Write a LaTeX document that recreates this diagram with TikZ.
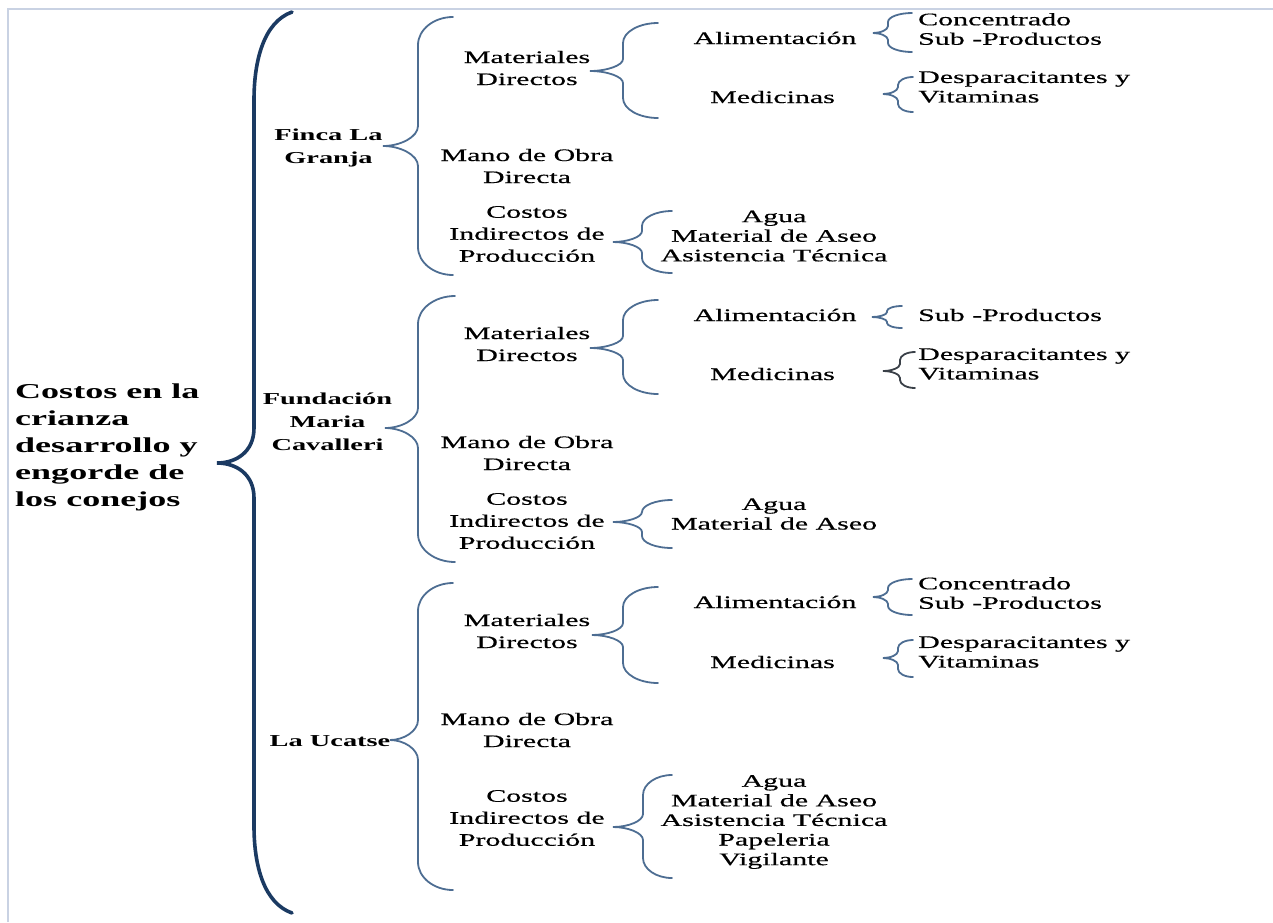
\documentclass[tikz,border=0pt]{standalone}
\usepackage{fontspec}
\setmainfont{Liberation Serif}[FakeStretch=1.7]
\newfontfamily\rfont{Liberation Serif}[FakeStretch=1.7,FakeBold=0.5]
\definecolor{bigb}{HTML}{1B3A62}
\definecolor{smb}{HTML}{4D6D92}
\definecolor{smg}{HTML}{3A4048}
\definecolor{framec}{HTML}{C9D2E3}
% style, xe, yt, yb, xv, xt, ym, rend, rtip
\newcommand\mybrc[9]{\draw[#1] (#2,#3) .. controls ({#2-0.55*(#2-#5)},#3) and (#5,{#3+0.45*#8}) .. (#5,{#3+#8})
 -- (#5,{#7-#9}) .. controls (#5,{#7-0.45*#9}) and ({#6+0.5*(#5-#6)},#7) .. (#6,#7)
 .. controls ({#6+0.5*(#5-#6)},#7) and (#5,{#7+0.45*#9}) .. (#5,{#7+#9})
 -- (#5,{#4-#8}) .. controls (#5,{#4-0.45*#8}) and ({#2-0.55*(#2-#5)},#4) .. (#2,#4);}
\tikzset{
 bigbrace/.style={draw=bigb, line width=3.6pt, line cap=round},
 smbrace/.style={draw=smb, line width=1.8pt, line cap=round},
 ttl/.style={font=\bfseries\fontsize{21.2}{27}\selectfont, align=left, inner sep=0pt},
 lvone/.style={font=\bfseries\fontsize{16.7}{23}\selectfont, align=center, inner sep=0pt},
 lvthree/.style={font=\rfont\fontsize{17.6}{22}\selectfont, align=center, inner sep=0pt},
 lvfour/.style={font=\rfont\fontsize{17.6}{20}\selectfont, inner sep=0pt, anchor=base},
 itm/.style={font=\rfont\fontsize{17.6}{19.5}\selectfont, align=left, inner sep=0pt},
 itc/.style={font=\rfont\fontsize{17.6}{19.6}\selectfont, align=center, inner sep=0pt},
}
\begin{document}
\begin{tikzpicture}[x=1pt,y=-1pt]
\useasboundingbox (0,0) rectangle (1273,922);
% frame
\draw[framec, line width=1.5pt] (8,922) -- (8,9) -- (1273,9);
% title
\node[ttl, anchor=west] (title) at (15,447) {Costos en la\\crianza\\desarrollo y\\engorde de\\los conejos};
% big brace
\draw[bigbrace] (292,12) .. controls (264,22) and (254,60) .. (254,100) -- (254,428)
  .. controls (254,452) and (236,463) .. (217,463)
  .. controls (236,463) and (254,474) .. (254,498) -- (254,826)
  .. controls (254,866) and (264,903) .. (292,913);
% level 1
\node[lvone] (finca) at (328.5,148) {Finca La\\Granja};
\node[lvone] (fund) at (327.5,422) {Fundación\\Maria\\Cavalleri};
\node[lvone] (ucat) at (330,741) {La Ucatse};
\mybrc{smbrace}{453}{17}{275}{418}{383}{146}{28}{20}
\mybrc{smbrace}{455}{296}{562}{418}{385}{428}{28}{20}
\mybrc{smbrace}{453}{583}{890}{418}{390}{740}{28}{20}
% ---------- Finca La Granja
\node[lvthree] (f-mat) at (527,68) {Materiales\\Directos};
\node[lvthree] (f-mo) at (527,166) {Mano de Obra\\Directa};
\node[lvthree] (f-ci) at (527,234) {Costos\\Indirectos de\\Producción};
\mybrc{smbrace}{658}{23}{118}{623}{590}{71}{20}{12}
\node[lvfour] (f-al) at (775,44) {Alimentación};
\node[lvfour] (f-me) at (772.5,103) {Medicinas};
\mybrc{smbrace}{912}{13}{52}{888}{873}{33}{9}{7}
\mybrc{smbrace}{913}{77}{112}{898}{883}{94}{8}{7}
\node[itm, anchor=west] (f-al-l) at (918,29) {Concentrado\\Sub -Productos};
\node[itm, anchor=west] (f-me-l) at (918,87) {Desparacitantes y\\Vitaminas};
\mybrc{smbrace}{672}{211}{273}{642}{613}{242}{15}{11}
\node[itc] (f-ci-l) at (774,236) {Agua\\Material de Aseo\\Asistencia Técnica};
% ---------- Fundacion
\node[lvthree] (u-mat) at (527,344) {Materiales\\Directos};
\node[lvthree] (u-mo) at (527,453) {Mano de Obra\\Directa};
\node[lvthree] (u-ci) at (527,521) {Costos\\Indirectos de\\Producción};
\mybrc{smbrace}{658}{300}{394}{623}{590}{348}{20}{12}
\node[lvfour] (u-al) at (775,321) {Alimentación};
\node[lvfour] (u-me) at (772.5,380) {Medicinas};
\mybrc{smbrace}{902}{306}{328}{887}{872}{317}{5}{5}
\mybrc{draw=smg, line width=1.8pt, line cap=round}{915}{352}{388}{900}{883}{371}{8}{7}
\node[lvfour, anchor=base west] (u-al-l) at (918,321) {Sub -Productos};
\node[itm, anchor=west] (u-me-l) at (918,364) {Desparacitantes y\\Vitaminas};
\mybrc{smbrace}{672}{500}{548}{642}{613}{522}{12}{10}
\node[itc] (u-ci-l) at (774,514) {Agua\\Material de Aseo};
% ---------- La Ucatse
\node[lvthree] (c-mat) at (527,631) {Materiales\\Directos};
\node[lvthree] (c-mo) at (527,730) {Mano de Obra\\Directa};
\node[lvthree] (c-ci) at (527,818) {Costos\\Indirectos de\\Producción};
\mybrc{smbrace}{658}{587}{683}{623}{592}{635}{20}{12}
\node[lvfour] (c-al) at (775,608) {Alimentación};
\node[lvfour] (c-me) at (772.5,668) {Medicinas};
\mybrc{smbrace}{912}{579}{615}{888}{873}{597}{9}{7}
\mybrc{smbrace}{913}{640}{677}{898}{883}{658}{8}{7}
\node[itm, anchor=west] (c-al-l) at (918,593) {Concentrado\\Sub -Productos};
\node[itm, anchor=west] (c-me-l) at (918,652) {Desparacitantes y\\Vitaminas};
\mybrc{smbrace}{672}{775}{878}{643}{613}{827}{20}{13}
\node[itc] (c-ci-l) at (774,822) {Agua\\Material de Aseo\\Asistencia Técnica\\Papeleria\\Vigilante};
\end{tikzpicture}
\end{document}
